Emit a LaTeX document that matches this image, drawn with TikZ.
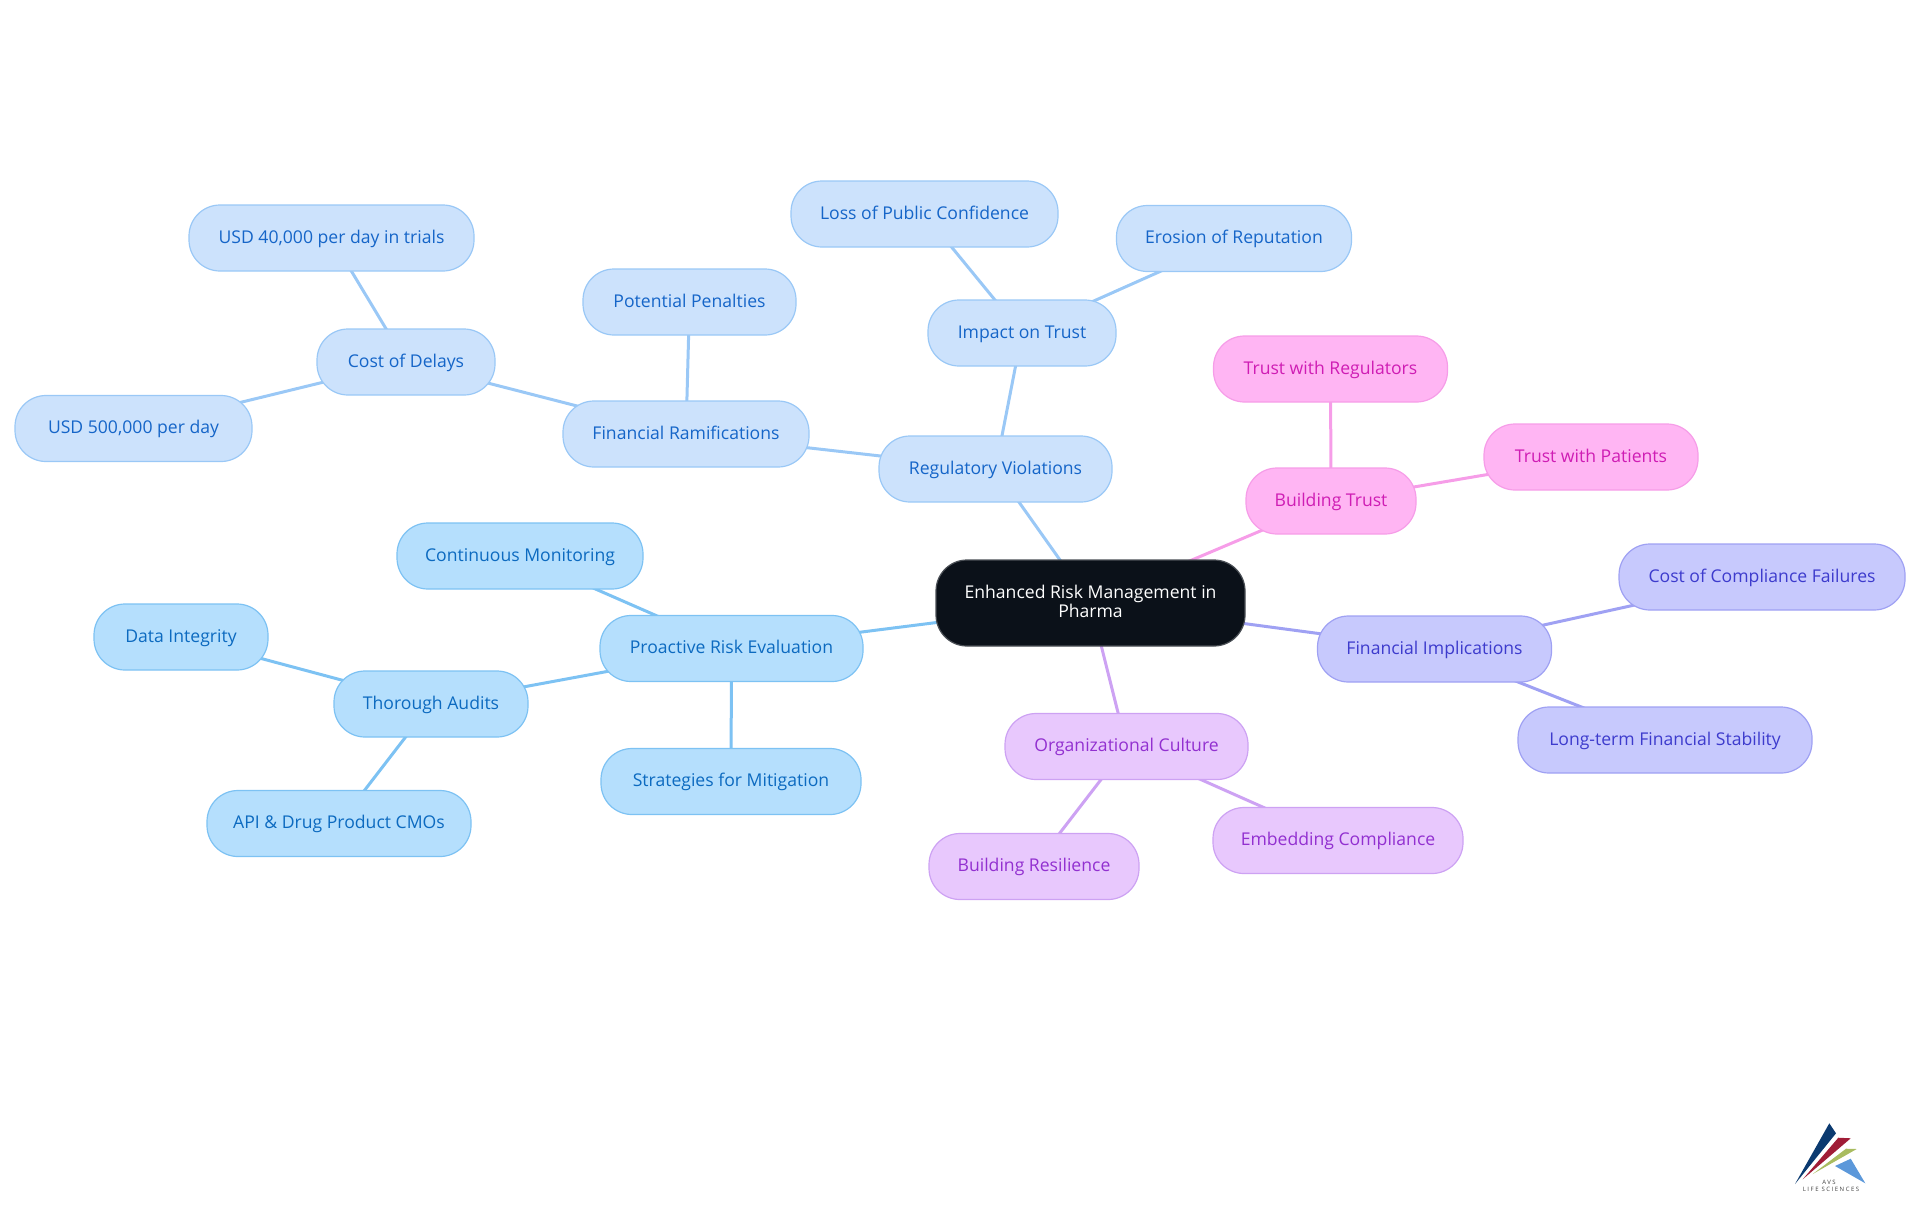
\documentclass[tikz,border=0pt]{standalone}
\usepackage{fontspec}
\setmainfont{Open Sans}
\usetikzlibrary{backgrounds}
\definecolor{blF}{HTML}{CCE2FC}\definecolor{blS}{HTML}{9AC8F6}\definecolor{blT}{HTML}{1565C8}
\definecolor{cyF}{HTML}{B5DFFD}\definecolor{cyS}{HTML}{7DC2F3}\definecolor{cyT}{HTML}{0C6AC0}
\definecolor{inF}{HTML}{C7C9FD}\definecolor{inS}{HTML}{9FA1F3}\definecolor{inT}{HTML}{3D3BCD}
\definecolor{piF}{HTML}{FFB5F3}\definecolor{piS}{HTML}{F69DE8}\definecolor{piT}{HTML}{CF1DB4}
\definecolor{puF}{HTML}{E8C8FD}\definecolor{puS}{HTML}{CDA2F3}\definecolor{puT}{HTML}{9230D0}
\definecolor{rootF}{HTML}{0B1119}\definecolor{rootS}{HTML}{4A4F55}
\definecolor{lgN}{HTML}{0B3A70}\definecolor{lgR}{HTML}{A01C36}\definecolor{lgG}{HTML}{A9BC60}\definecolor{lgB}{HTML}{5C98DA}
\tikzset{
 every node/.style={font=\fontsize{8.8}{9.5}\selectfont,align=center,inner sep=0pt},
 shell/.style={rounded corners=15.5pt,line width=0.6pt},
 pill/.style={shell,minimum height=33pt,text height=7.5pt,text depth=2.2pt},
 wd/.style={minimum width=#1*0.5pt},
 blbox/.style={pill,draw=blS,fill=blF,text=blT},
 cybox/.style={pill,draw=cyS,fill=cyF,text=cyT},
 inbox/.style={pill,draw=inS,fill=inF,text=inT},
 pibox/.style={pill,draw=piS,fill=piF,text=piT},
 pubox/.style={pill,draw=puS,fill=puF,text=puT},
 rootbox/.style={shell,minimum height=43pt,draw=rootS,fill=rootF,text=white},
 bl/.style={line width=1.5pt,draw=blS},
 cy/.style={line width=1.5pt,draw=cyS},
 inl/.style={line width=1.5pt,draw=inS},
 pil/.style={line width=1.5pt,draw=piS},
 pul/.style={line width=1.5pt,draw=puS},
 logotext/.style={text=black!75,font=\fontsize{3}{3.5}\selectfont\addfontfeature{LetterSpace=25}},
}
\begin{document}
\begin{tikzpicture}[x=0.5pt,y=-0.5pt]
\useasboundingbox (0,0) rectangle (1920,1215);
\node[rootbox,wd=309] (root) at (1090.5,603) {Enhanced Risk Management in\\Pharma\rule[-1.2pt]{0pt}{0pt}};
\node[blbox,wd=233] (reg) at (995.5,469) {Regulatory Violations};
\node[blbox,wd=188] (imp) at (1022,333) {Impact on Trust};
\node[blbox,wd=267] (loss) at (924.5,214) {Loss of Public Confidence};
\node[blbox,wd=235] (ero) at (1234,238.5) {Erosion of Reputation};
\node[blbox,wd=246] (fin) at (686,434) {Financial Ramifications};
\node[blbox,wd=213] (pot) at (689.5,302) {Potential Penalties};
\node[blbox,wd=178] (cod) at (406,362) {Cost of Delays};
\node[blbox,wd=285] (u40) at (331.5,238) {USD 40,000 per day in trials};
\node[blbox,wd=237] (u50) at (133.5,428.5) {USD 500,000 per day};
\node[cybox,wd=263] (pro) at (731.5,648.5) {Proactive Risk Evaluation};
\node[cybox,wd=246] (con) at (520,556) {Continuous Monitoring};
\node[cybox,wd=260] (str) at (731,781.5) {Strategies for Mitigation};
\node[cybox,wd=194] (tho) at (431,704) {Thorough Audits};
\node[cybox,wd=174] (dat) at (181,637) {Data Integrity};
\node[cybox,wd=264] (api) at (339,823.5) {API \& Drug Product CMOs};
\node[pibox,wd=170] (bui) at (1331,501) {Building Trust};
\node[pibox,wd=234] (tre) at (1330.5,369) {Trust with Regulators};
\node[pibox,wd=214] (tpa) at (1591,457) {Trust with Patients};
\node[inbox,wd=234] (fim) at (1434.5,649) {Financial Implications};
\node[inbox,wd=286] (coc) at (1762,577) {Cost of Compliance Failures};
\node[inbox,wd=294] (lon) at (1665,740) {Long-term Financial Stability};
\node[pubox,wd=243] (org) at (1126.5,746.5) {Organizational Culture};
\node[pubox,wd=250] (emb) at (1338,840.5) {Embedding Compliance};
\node[pubox,wd=210] (res) at (1034,866.5) {Building Resilience};
\begin{pgfonlayer}{background}
\draw[bl] (root.center)--(reg.center);
\draw[bl] (reg.center)--(imp.center);
\draw[bl] (imp.center)--(loss.center);
\draw[bl] (imp.center)--(ero.center);
\draw[bl] (reg.center)--(fin.center);
\draw[bl] (fin.center)--(pot.center);
\draw[bl] (fin.center)--(cod.center);
\draw[bl] (cod.center)--(u40.center);
\draw[bl] (cod.center)--(u50.center);
\draw[cy] (root.center)--(pro.center);
\draw[cy] (pro.center)--(con.center);
\draw[cy] (pro.center)--(str.center);
\draw[cy] (pro.center)--(tho.center);
\draw[cy] (tho.center)--(dat.center);
\draw[cy] (tho.center)--(api.center);
\draw[pil] (root.center)--(bui.center);
\draw[pil] (bui.center)--(tre.center);
\draw[pil] (bui.center)--(tpa.center);
\draw[inl] (root.center)--(fim.center);
\draw[inl] (fim.center)--(coc.center);
\draw[inl] (fim.center)--(lon.center);
\draw[pul] (root.center)--(org.center);
\draw[pul] (org.center)--(emb.center);
\draw[pul] (org.center)--(res.center);
\end{pgfonlayer}
% logo
\fill[lgN] (1829.3,1123.3)--(1836,1133.3)--(1795,1184)--cycle;
\fill[lgR] (1838.3,1137.7)--(1850.7,1138.3)--(1802.7,1179.3)--cycle;
\fill[lgG] (1846,1148.7)--(1856.7,1149)--(1812.7,1174)--cycle;
\fill[lgB] (1850.7,1158.7)--(1835,1166)--(1865.3,1183.3)--cycle;
\node[logotext] (lgA) at (1829,1182.3) {AVS};
\node[logotext] (lgL) at (1831,1189.3) {LIFE SCIENCES};
\end{tikzpicture}
\end{document}
